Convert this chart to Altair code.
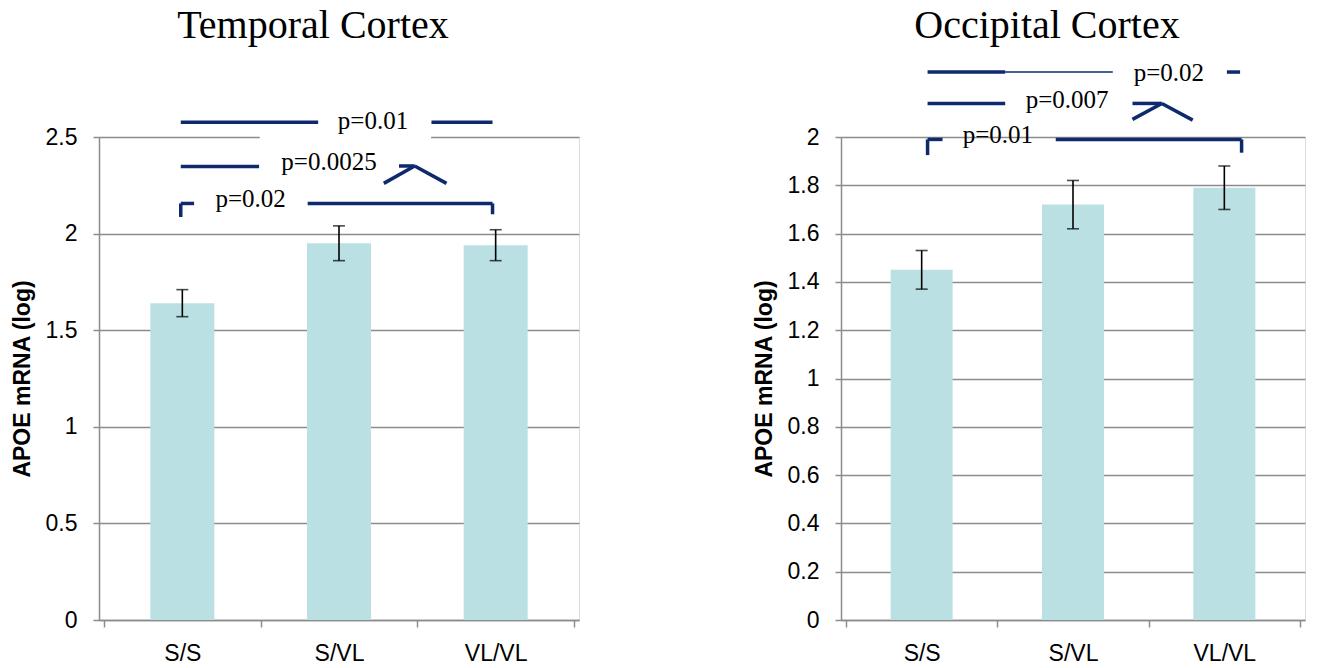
import altair as alt
import pandas as pd

# categories sit at x = 0, 1, 2 on a linear axis spanning [-0.5, 2.5]
genotypes = ["S/S", "S/VL", "VL/VL"]
positions = [0, 1, 2]

temporal_mean = [1.64, 1.95, 1.94]
temporal_low = [1.57, 1.86, 1.86]
temporal_high = [1.71, 2.04, 2.02]
temporal_ticks = [0, 0.5, 1, 1.5, 2, 2.5]

occipital_mean = [1.45, 1.72, 1.79]
occipital_low = [1.37, 1.62, 1.70]
occipital_high = [1.53, 1.82, 1.88]
occipital_ticks = [0, 0.2, 0.4, 0.6, 0.8, 1, 1.2, 1.4, 1.6, 1.8, 2]

# significance brackets, one stroke per row: x, x2, y, y2, stroke width
temporal_strokes = [
    (-0.01, 0.867, 2.576, 2.576, 3.5),
    (1.59, 1.98, 2.576, 2.576, 3.5),
    (-0.01, 0.49, 2.347, 2.347, 3.5),
    (1.383, 1.483, 2.35, 2.35, 3.5),
    (1.286, 1.483, 2.26, 2.35, 3.5),
    (1.483, 1.686, 2.35, 2.26, 3.5),
    (-0.01, 0.075, 2.156, 2.156, 3.5),
    (0.80, 1.98, 2.156, 2.156, 3.5),
    (-0.01, -0.01, 2.156, 2.086, 3.5),
    (1.98, 1.98, 2.156, 2.10, 3.5),
]
temporal_pvalues = [
    (1.217, 2.585, "p=0.01"),
    (0.936, 2.37, "p=0.0025"),
    (0.436, 2.18, "p=0.02"),
]
# white box behind the middle label that interrupts the top gridline
temporal_gaps = [(0.494, 1.588, 2.49, 2.51)]

occipital_strokes = [
    (0.039, 0.552, 2.269, 2.269, 3.5),
    (0.552, 1.263, 2.269, 2.269, 1.5),
    (2.017, 2.104, 2.269, 2.269, 3.5),
    (0.039, 0.552, 2.139, 2.139, 3.5),
    (1.393, 1.587, 2.139, 2.139, 3.5),
    (1.393, 1.587, 2.073, 2.139, 3.5),
    (1.587, 1.791, 2.139, 2.070, 3.5),
    (0.039, 0.138, 1.99, 1.99, 3.5),
    (0.886, 2.114, 1.99, 1.99, 3.5),
    (0.039, 0.039, 1.99, 1.925, 3.5),
    (2.114, 2.114, 1.99, 1.935, 3.5),
]
occipital_pvalues = [
    (1.634, 2.265, "p=0.02"),
    (0.961, 2.155, "p=0.007"),
    (0.504, 2.01, "p=0.01"),
]
occipital_gaps = []

BAR = "#bae0e3"
NAVY = "#0e2a6c"
GRID = "#8c8c8c"
SANS = "Liberation Sans Narrow, Liberation Sans, Arial"
SERIF = "Liberation Serif, Times New Roman"

label_expr = " : ".join(
    f"datum.value === {p} ? '{g}'" for p, g in zip(positions, genotypes)
) + " : ''"


def panel(title, means, lows, highs, ymax, yticks, width, bar_size,
          strokes, pvalues, gaps, title_offset):
    bars_df = pd.DataFrame({"pos": positions, "genotype": genotypes,
                            "mean": means, "low": lows, "high": highs})
    seg_df = pd.DataFrame(strokes, columns=["x", "x2", "y", "y2", "w"])
    lab_df = pd.DataFrame(pvalues, columns=["x", "y", "text"])

    xscale = alt.Scale(domain=[-0.5, 2.5], nice=False, zero=False)
    yscale = alt.Scale(domain=[0, ymax], nice=False)

    x_axis = alt.Axis(
        values=[-0.5, 0, 0.5, 1, 1.5, 2, 2.5], labelExpr=label_expr,
        title=None, grid=False, domainColor=GRID, domainWidth=1.5,
        tickColor=GRID, tickWidth=1.5, tickSize=7,
        tickOpacity={"condition": {"test": "datum.value % 1 === 0", "value": 0},
                     "value": 1},
        labelFont=SANS, labelFontSize=23, labelColor="black", labelPadding=15,
        labelFlush=False, labelOverlap=False,
    )
    y_axis = alt.Axis(
        values=yticks, format="~g", title="APOE mRNA (log)",
        grid=True, gridColor=GRID, gridWidth=1.3,
        domainColor=GRID, domainWidth=1.5, tickColor=GRID, tickWidth=1.5,
        tickSize=6, labelFont=SANS, labelFontSize=23, labelColor="black",
        labelPadding=16, titleFont="Liberation Sans, Arial", titleFontSize=23,
        titleFontWeight="bold", titleColor="black", titlePadding=11,
    )

    bars = alt.Chart(bars_df).mark_bar(size=bar_size, color=BAR).encode(
        x=alt.X("pos:Q", scale=xscale, axis=x_axis),
        y=alt.Y("mean:Q", scale=yscale, axis=y_axis),
    )
    errs = alt.Chart(bars_df).mark_rule(color="black", strokeWidth=1.6).encode(
        x="pos:Q", y="low:Q", y2="high:Q")
    caps_lo = alt.Chart(bars_df).mark_tick(
        color="black", orient="horizontal", size=12, thickness=1.6
    ).encode(x="pos:Q", y="low:Q")
    caps_hi = alt.Chart(bars_df).mark_tick(
        color="black", orient="horizontal", size=12, thickness=1.6
    ).encode(x="pos:Q", y="high:Q")

    layers = [bars, errs, caps_lo, caps_hi]
    if gaps:
        gap_df = pd.DataFrame(gaps, columns=["x", "x2", "y", "y2"])
        layers.append(alt.Chart(gap_df).mark_rect(color="white").encode(
            x="x:Q", x2="x2:Q", y="y:Q", y2="y2:Q"))

    segs = alt.Chart(seg_df).mark_rule(color=NAVY, strokeCap="butt").encode(
        x="x:Q", x2="x2:Q", y="y:Q", y2="y2:Q",
        strokeWidth=alt.StrokeWidth("w:Q", scale=None, legend=None),
    )
    labs = alt.Chart(lab_df).mark_text(
        font=SERIF, fontSize=25, color="black", baseline="middle", align="center"
    ).encode(x="x:Q", y="y:Q", text="text:N")
    layers += [segs, labs]

    return alt.layer(*layers).properties(
        width=width, height=483,
        title=alt.TitleParams(title, font=SERIF, fontSize=40, fontWeight="normal",
                              color="black", dx=-26, offset=title_offset),
    )


left = panel("Temporal Cortex", temporal_mean, temporal_low, temporal_high, 2.5,
             temporal_ticks, 480, 64, temporal_strokes, temporal_pvalues,
             temporal_gaps, 63)
right = panel("Occipital Cortex", occipital_mean, occipital_low, occipital_high, 2,
              occipital_ticks, 464, 62, occipital_strokes, occipital_pvalues,
              occipital_gaps, 15)

chart = alt.hconcat(left, right, spacing=172).properties(
    padding={"left": 10, "top": 5, "right": 5, "bottom": 5}
).configure_view(stroke=None).configure(background="white")

chart.save("out.html", embed_options={"renderer": "svg", "actions": False})
